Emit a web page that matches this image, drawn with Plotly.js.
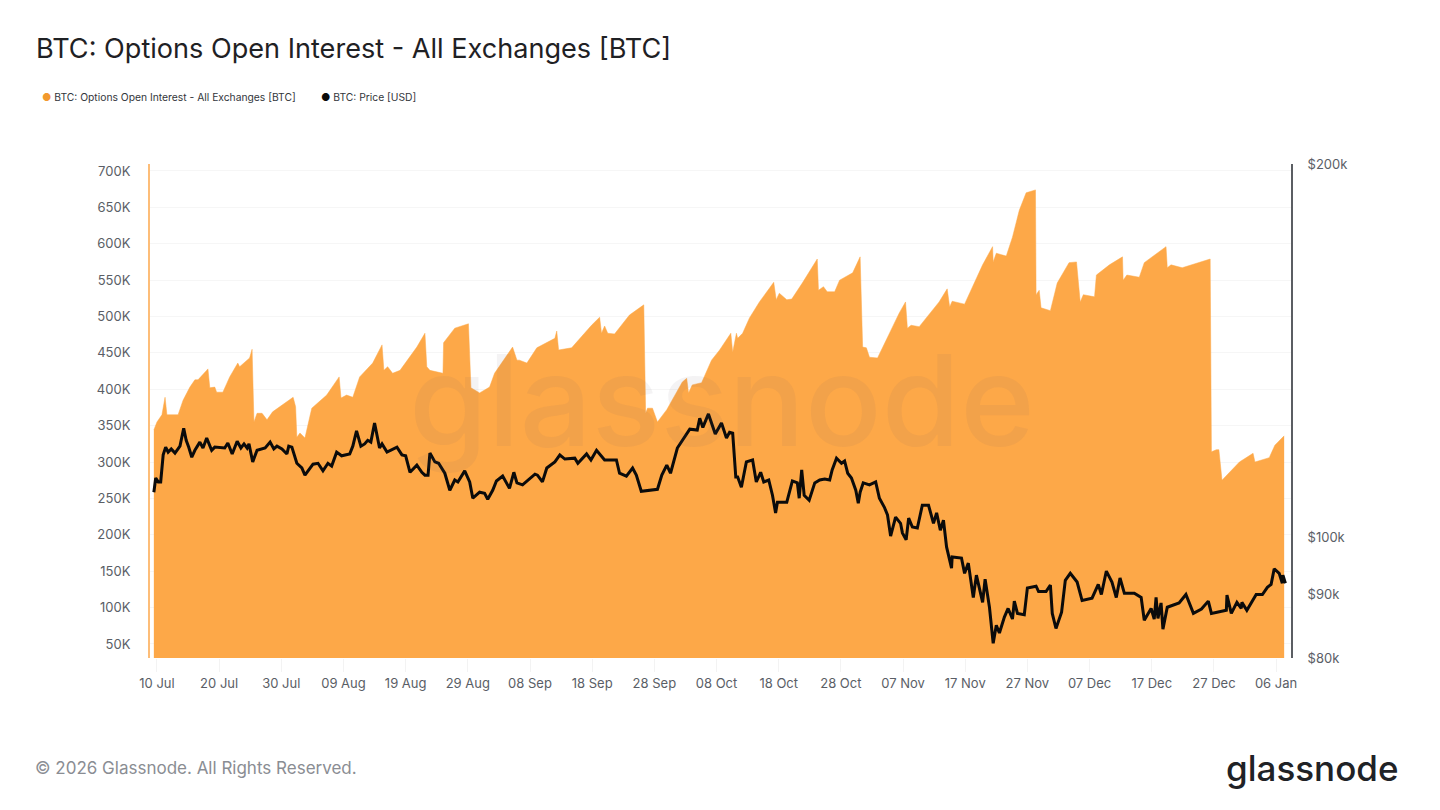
<!DOCTYPE html>
<html>
<head>
<meta charset="utf-8">
<script src="https://cdn.plot.ly/plotly-3.0.1.min.js"></script>
<style>html,body{margin:0;padding:0;background:#fff}#c{width:1440px;height:810px}</style>
</head>
<body>
<div id="c"></div>
<script>
// Days since 10 Jul 2025 and open interest in thousands of BTC
const oiDay = [-.5,0,.8,1.3,1.6,3.4,4.2,5.3,6.1,6.6,8.2,8.5,9.3,9.6,10.6,11.7,13,13.3,14.9,15.3,15.6,16.1,16.9,17.7,18.6,21.9,22.3,22.5,23,23.8,24.9,27.3,29.3,29.6,30.5,31.5,32.6,34.7,36.2,36.5,37.1,37.9,39.1,41.8,43.1,43.4,43.9,46,46.1,47.9,50.1,50.5,51.9,53.5,54.3,57.2,57.9,58.3,59.5,61.1,64,64.3,64.6,66.7,69.9,71.2,71.5,72,72.5,73.6,76,78.3,78.6,78.9,79.7,80.5,82,84.5,85.2,85.5,86.1,87.6,89.2,90.5,92.3,92.6,93.2,93.4,94.2,95.3,96.9,99.2,99.6,100.1,101.3,102.1,103.8,106.2,106.4,107.2,107.8,109,109.8,111.9,113.1,113.5,114.1,114.6,115.9,117.8,119.4,120.4,120.7,121.3,122.6,125.8,127.1,127.5,127.9,129.9,132.8,134.4,134.5,135,136.6,137.6,138.7,139.8,141.3,141.4,141.9,142.2,143.7,144.8,146.7,147.9,148.5,149,150.8,151.1,153.2,155.3,155.4,156,158,158.8,162.3,162.5,163.1,164.9,169.1,169.4,169.6,170.4,170.8,171.2,171.3,174.1,175.7,176.3,176.6,178.9,179.8,181.3];
const oiValue = [344,355,365,389,365,365,385,403,413,413,428,402,403,396,396,417,436,431,443,455,355,367,367,358,369,389,376,334,340,333,374,392,417,388,392,389,417,436,461,426,431,422,426,458,477,431,426,422,464,484,490,402,395,403,422,458,440,440,436,457,470,480,454,457,488,499,477,487,477,476,502,516,367,374,374,355,372,410,415,395,406,409,440,454,477,451,477,470,477,498,520,547,523,532,523,524,546,579,536,541,534,534,550,560,582,458,457,444,443,477,505,520,484,488,486,520,538,513,521,517,571,596,575,587,583,609,646,670,674,530,536,512,508,546,574,575,520,530,527,557,571,582,550,557,554,574,596,567,571,567,579,579,314,317,317,278,275,300,308,312,300,306,323,336];
// Days since 10 Jul 2025 and BTC price in thousands of USD
const priceDay = [-.5,-.2,.2,.6,1,1.4,1.8,2.3,2.9,3.7,4.3,4.7,5.1,5.6,6.1,6.9,7.4,8,8.8,9.3,10.9,11.4,12.1,12.9,13.5,14,14.5,14.8,15.4,16.1,17.4,18.2,18.8,19.3,20.1,20.9,21.2,21.7,22.5,23.3,23.8,25.1,25.9,26.7,27.5,28.1,28.9,29.7,31,31.5,32.1,32.8,33.4,33.9,34.4,35,35.8,36.2,37,38.6,39.4,40,40.7,41.8,42.6,43.1,43.6,43.9,44.7,45.3,
46.3,47.1,47.9,48.4,49.5,50.3,50.8,51.9,52.7,53.2,54,54.6,55.6,56.7,57.4,57.9,58.8,59.6,60.8,61.2,62,62.7,64,64.8,65.6,67.2,67.7,69.1,69.8,70.7,72,73.9,74.4,75.5,76.5,77.1,77.9,80.5,81.2,82,82.6,83.7,84.9,85.7,86.9,87.3,87.8,88.7,89.8,90.8,91.6,92.1,
92.6,93.1,93.4,94,94.8,95.8,96.4,97.1,97.6,98.4,99,99.5,99.8,101.3,102.2,103,103.3,103.7,104.1,104.9,105.8,106.6,107.4,108.2,108.6,109.3,110.1,110.6,111.1,111.7,112.4,112.8,113.1,113.6,114.6,115.6,116.2,117,117.5,118,118.8,119.6,119.9,120.5,120.9,121.5,122.3,123.1,124.1,124.9,125.4,126,126.5,127,127.8,127.9,129.4,129.9,130.5,131.3,131.8,132.8,133.2,133.9,134.5,135,
135.5,136.3,136.9,137.6,137.9,138.4,139.5,140,141.4,141.8,143,143.7,144,144.6,145.5,146.1,146.9,148,148.8,150.4,151.4,151.9,152.7,153.6,154.3,154.9,155.6,157.2,158.3,158.8,159.9,160.4,160.7,161,161.5,161.8,162.5,164.4,165.5,166.7,168,169.1,169.6,172,172.1,172.8,173.7,174.4,174.5,175.3,176.8,177.8,178.6,179.2,179.7,180.5,181,181.1,181.5];
const priceValue = [108.8,111.7,110.9,110.9,116.6,118.3,117.2,117.9,117,118.5,122.5,119.8,118.3,116.1,117.6,119.4,118.1,120.3,117.6,118.3,118.1,119.2,116.8,119.6,118.1,119,118.1,119,115.1,117.6,118.1,119.4,117.9,118.5,117.9,116.8,118.5,118.3,114.8,113.8,112.3,114.6,114.8,113.2,114.8,114.2,117.2,116.4,116.8,118.5,121.9,118.5,119,119.8,119.4,123.7,118.1,119,117.2,118.3,116.6,116.4,112.9,114.4,112.9,112.3,112.3,117,115.1,114.8,
112.7,109.2,111.3,110.9,113.2,110.9,107.6,108.8,108.6,107.4,109.2,111.1,112.1,109.6,112.9,110.7,110.3,111.1,112.5,112.3,110.9,113.8,115.1,116.6,115.7,115.9,114.8,116.8,115.5,117.6,115.5,115.5,112.7,112.1,113.8,112.3,109,109.4,112.3,114.4,112.7,118.1,120.5,122.3,122.1,124.8,122.7,125.8,121.2,123.7,120.3,121.6,
121.4,111.9,111.9,109.8,115.1,115.5,110.9,112.9,110.9,111.3,108.2,104.7,106.8,106.8,111.1,110.7,107.6,113.4,108.2,107.2,110.7,111.3,111.5,111.3,113.4,115.9,114.8,115.3,112.7,111.7,109.2,106.6,108.8,110.7,110.3,110.9,107.6,105.8,104.3,100.3,103.9,102.7,100.9,99.6,103.7,102,101.8,106.2,106.2,102.7,104.7,101.4,103.3,98.3,94.5,96.5,96.3,93.6,95.4,89.5,93.3,88.7,92.6,87.9,82.2,85,
83.8,86.3,87.7,86,88.9,86.9,86.7,91.1,91.4,90.5,90.5,91.6,86.9,84.5,87.1,92.4,93.6,92.1,89,89.4,91.7,90,94,92.1,89.5,92.8,90.2,90.2,89.5,85.8,87.7,86,89.5,86.1,88.6,84.4,87.9,88.6,90,86.9,87.6,88.9,86.9,87.4,89.9,86.9,88.7,87.7,88.7,87.4,90,90,91.2,91.7,94.4,93.6,91.9,93.3,91.9];
const leftTicks = [50,100,150,200,250,300,350,400,450,500,550,600,650,700];
const rightTicks = [80,90,100,200];
const xTickDay = [0,10,20,30,40,50,60,70,80,90,100,110,120,130,140,150,160,170,180];
const xTickLabels = ['10 Jul','20 Jul','30 Jul','09 Aug','19 Aug','29 Aug','08 Sep','18 Sep','28 Sep','08 Oct','18 Oct','28 Oct','07 Nov','17 Nov','27 Nov','07 Dec','17 Dec','27 Dec','06 Jan'];
const titleText = 'BTC: Options Open Interest - All Exchanges [BTC]';
const legendOI = 'BTC: Options Open Interest - All Exchanges [BTC]';
const legendPrice = 'BTC: Price [USD]';

const START = Date.UTC(2025, 6, 10);
const toDate = d => new Date(START + d * 86400000).toISOString();
const FONT = 'Inter, "Liberation Sans", sans-serif';
const L = 150, R = 1291.5, T = 164, B = 658;
const px = x => (x - L) / (R - L);
const py = y => (B - y) / (B - T);

const traces = [
  {x: oiDay.map(toDate), y: oiValue.map(v => v * 1000), type: 'scatter', mode: 'lines', name: legendOI,
   line: {color: '#fda848', width: 0.5}, fill: 'tozeroy', fillcolor: '#fda848', yaxis: 'y', hoverinfo: 'skip'},
  {x: priceDay.map(toDate), y: priceValue.map(v => v * 1000), type: 'scatter', mode: 'lines', name: legendPrice,
   line: {color: '#0b0b0b', width: 3, shape: 'linear'}, yaxis: 'y2', hoverinfo: 'skip'}
];

const ann = (x, y, text, size, color, extra) => Object.assign({
  xref: 'paper', yref: 'paper', x: px(x), y: py(y), text, showarrow: false, xanchor: 'left', yanchor: 'middle',
  font: {family: FONT, size, color}
}, extra || {});

const layout = {
  width: 1440, height: 810, paper_bgcolor: '#fff', plot_bgcolor: '#fff', showlegend: false,
  margin: {l: L, r: 1440 - R, t: T, b: 810 - B, pad: 0},
  title: {text: titleText, x: 36 / 1440, xref: 'container', xanchor: 'left', y: 1 - 49 / 810, yref: 'container', yanchor: 'middle',
          font: {family: FONT, size: 27.1, color: '#1f2124'}},
  xaxis: {type: 'date', range: [toDate(-1.12), toDate(182.4)], tickmode: 'array', tickvals: xTickDay.map(toDate), ticktext: xTickLabels,
          showgrid: false, zeroline: false, showline: false, ticks: 'outside', ticklen: 13, tickcolor: '#f3f3f3', tickwidth: 1,
          tickfont: {family: FONT, size: 13, color: '#5a5e66'}},
  yaxis: {range: [30700, 709600], tickmode: 'array', tickvals: leftTicks.map(v => v * 1000), ticktext: leftTicks.map(v => v + 'K'),
          showgrid: true, gridcolor: '#f6f6f6', gridwidth: 1, zeroline: false, showline: true, linecolor: '#fdbd78', linewidth: 2,
          ticks: 'outside', ticklen: 15, tickcolor: 'rgba(0,0,0,0)', tickfont: {family: FONT, size: 13, color: '#5a5e66'}},
  yaxis2: {type: 'log', overlaying: 'y', side: 'right', range: [Math.log10(80000), Math.log10(200000)], tickmode: 'array',
           tickvals: rightTicks.map(v => v * 1000), ticktext: rightTicks.map(v => '$' + v + 'k'), showgrid: false, zeroline: false,
           showline: true, linecolor: '#5b5e63', linewidth: 2, ticks: 'outside', ticklen: 12, tickcolor: 'rgba(0,0,0,0)',
           tickfont: {family: FONT, size: 13, color: '#5a5e66'}},
  annotations: [
    ann(722, 400, 'glassnode', 127, 'rgba(110,100,105,0.075)', {xanchor: 'center', font: {family: FONT, size: 127, color: 'rgba(110,100,105,0.075)', weight: 500}}),
    ann(40, 97, '<span style="color:#f2992e">●</span> ' + legendOI, 10.3, '#33363b'),
    ann(319, 97, '<span style="color:#0b0b0b">●</span> ' + legendPrice, 10.3, '#33363b'),
    ann(33, 768, '© 2026 Glassnode. All Rights Reserved.', 17, '#8a8d93'),
    ann(1224, 768, 'glassnode', 35, '#202226', {font: {family: FONT, size: 35, color: '#202226', weight: 500}})
  ]
};
Plotly.newPlot('c', traces, layout, {displayModeBar: false, staticPlot: true});
</script>
</body>
</html>
